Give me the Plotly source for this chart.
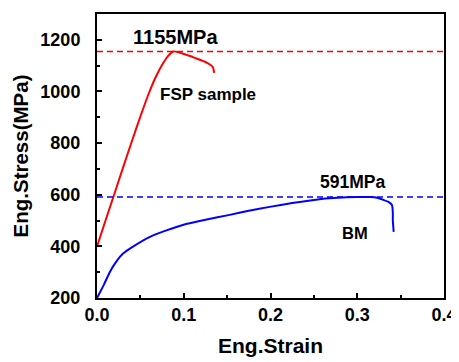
import plotly.graph_objects as go

# FSP sample curve
fsp_strain = [0.0, 0.010, 0.020, 0.030, 0.040, 0.050, 0.060, 0.068, 0.076, 0.082, 0.088,
              0.094, 0.103, 0.112, 0.120, 0.127, 0.132, 0.134, 0.135]
fsp_stress = [400, 502, 603, 705, 805, 903, 995, 1058, 1108, 1138, 1155,
              1152, 1142, 1131, 1121, 1111, 1100, 1090, 1072]

# Base metal curve
bm_strain = [0.0, 0.008, 0.015, 0.022, 0.030, 0.041, 0.061, 0.080, 0.099, 0.125, 0.153,
             0.175, 0.199, 0.225, 0.246, 0.268, 0.288, 0.300, 0.315, 0.323, 0.330,
             0.336, 0.340, 0.341, 0.341, 0.342]
bm_stress = [200, 252, 302, 340, 372, 398, 437, 462, 483, 503, 522,
             538, 553, 568, 578, 586, 590, 591, 591, 588, 580,
             572, 560, 530, 500, 456]

uts_values = [1155, 591]
uts_labels = ["1155MPa", "591MPa"]
sample_labels = ["FSP sample", "BM"]
colors = ["#ff0000", "#0000ff"]

x_range = [0, 0.4]
y_range = [200, 1300]
x_ticks = [0.0, 0.1, 0.2, 0.3, 0.4]
x_ticktext = ["0.0", "0.1", "0.2", "0.3", "0.4"]
y_ticks = [200, 400, 600, 800, 1000, 1200]

FONT = "Liberation Sans, Arial, sans-serif"

fig = go.Figure()
fig.add_trace(go.Scatter(x=fsp_strain, y=fsp_stress, mode="lines",
                         line=dict(color=colors[0], width=2, shape="spline", smoothing=0.6),
                         showlegend=False))
fig.add_trace(go.Scatter(x=bm_strain, y=bm_stress, mode="lines",
                         line=dict(color=colors[1], width=2, shape="spline", smoothing=0.6),
                         showlegend=False))
for v, c in zip(uts_values, colors):
    fig.add_trace(go.Scatter(x=x_range, y=[v, v], mode="lines",
                             line=dict(color=c, width=1.5, dash="6px,4px"),
                             showlegend=False))

ann = [
    (0.090, 1212, uts_labels[0], 20),
    (0.128, 987, sample_labels[0], 17),
    (0.295, 650, uts_labels[1], 17.5),
    (0.297, 452, sample_labels[1], 16.5),
]
for x, y, t, s in ann:
    fig.add_annotation(x=x, y=y, text=t, showarrow=False,
                       font=dict(family=FONT, size=s, color="black", weight="bold"),
                       xanchor="center", yanchor="middle")

axis_common = dict(
    showline=True, linecolor="black", linewidth=2, mirror=True,
    ticks="inside", ticklen=5, tickwidth=1.5, tickcolor="black",
    showgrid=False, zeroline=False, automargin=False,
    tickfont=dict(family=FONT, size=18, color="black", weight="bold"),
)

fig.update_xaxes(range=x_range, tickvals=x_ticks, ticktext=x_ticktext,
                 minor=dict(ticks="inside", ticklen=3, tickwidth=1.5, tickcolor="black",
                            dtick=0.05),
                 ticklabelstandoff=-1,
                 title=dict(text="Eng.Strain", standoff=15,
                            font=dict(family=FONT, size=21, color="black", weight="bold")),
                 **axis_common)
fig.update_yaxes(range=y_range, tickvals=y_ticks,
                 minor=dict(ticks="inside", ticklen=3, tickwidth=1.5, tickcolor="black",
                            dtick=100),
                 ticklabelstandoff=11,
                 title=dict(text="Eng.Stress(MPa)", standoff=6,
                            font=dict(family=FONT, size=20.5, color="black", weight="bold")),
                 **axis_common)

# the page body adds an 8px offset, so the figure is sized to fit the window
fig.update_layout(width=451, height=354,
                  margin=dict(l=89, r=15, t=6, b=64),
                  plot_bgcolor="white", paper_bgcolor="white")

fig.write_html("out.html")
